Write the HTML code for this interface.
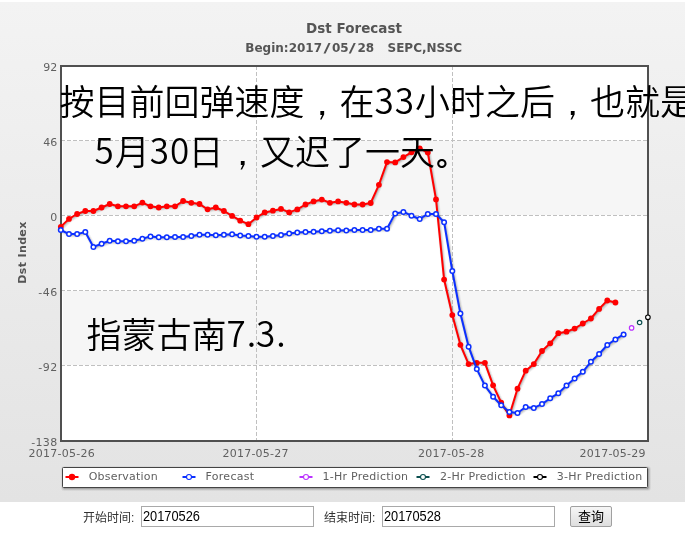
<!DOCTYPE html>
<html><head><meta charset="utf-8"><title>Dst Forecast</title>
<style>
html,body{margin:0;padding:0;background:#fff;width:685px;height:544px;overflow:hidden}
#chart{position:absolute;left:0;top:2px;width:685px;height:500px;background:linear-gradient(#f3f3f3,#e3e3e3)}
#chart svg{position:absolute;left:0;top:-2px}
.ax{font-family:"DejaVu Sans","Liberation Sans",sans-serif;font-size:11px;fill:#606060}
.ttl{font-family:"DejaVu Sans","Liberation Sans",sans-serif;font-weight:bold;fill:#555}
.ann{font-family:"Noto Sans CJK SC",sans-serif;font-weight:350;font-size:35px;fill:#000}
.cm{font-family:"WenQuanYi Zen Hei",sans-serif;font-weight:400}
#form{position:absolute;left:0;top:502px;width:685px;height:42px;font-family:"Liberation Sans","Noto Sans CJK SC",sans-serif;font-size:12px;color:#333}
.lbl{position:absolute;top:9px;line-height:14px}
.inp{position:absolute;top:4px;height:19px;width:171px;border:1px solid #a9a9a9;background:#fff;font-family:"Liberation Sans",sans-serif;font-size:13.33px;line-height:20px;color:#000;padding:0;box-sizing:content-box}
.it{display:inline-block;font-size:14px;transform:scaleX(0.915);transform-origin:0 50%;margin-left:1px;position:relative;top:-1px}
.btn{position:absolute;left:570px;top:4px;width:40px;height:19px;border:1px solid #a0a0a0;border-radius:2px;background:linear-gradient(#f6f6f6,#dedede);font-size:13px;line-height:19px;text-align:center;color:#000}
</style></head><body>
<div id="chart">
<svg width="685" height="502" viewBox="0 0 685 502">
<rect x="61" y="66" width="587" height="375" fill="#fff"/>
<rect x="63" y="141" width="584" height="74" fill="#f6f6f6"/>
<rect x="63" y="291" width="584" height="74" fill="#f6f6f6"/>
<g stroke="#c0c0c0" stroke-width="1" stroke-dasharray="4,2" fill="none"><path d="M61 140.5 H648"/><path d="M61 215.5 H648"/><path d="M61 290.5 H648"/><path d="M61 365.5 H648"/></g>
<g stroke="#c0c0c0" stroke-width="1" stroke-dasharray="4,2" fill="none"><path d="M256.5 66 V440"/><path d="M452.5 66 V440"/></g>
<rect x="61" y="66" width="587" height="375" fill="none" stroke="#505050" stroke-width="2"/>
<text class="ttl" x="306" y="33" font-size="13.5" textLength="96" lengthAdjust="spacing">Dst Forecast</text>
<text class="ttl" x="245.3" y="52" font-size="12">Begin:2017</text><text class="ttl" font-size="12" text-anchor="middle" transform="translate(327.1,52) scale(1.6,1)">/</text><text class="ttl" x="332" y="52" font-size="12">05</text><text class="ttl" font-size="12" text-anchor="middle" transform="translate(352.3,52) scale(1.6,1)">/</text><text class="ttl" x="357.5" y="52" font-size="12">28</text>
<text class="ttl" x="387.5" y="52" font-size="12" textLength="74.6" lengthAdjust="spacing">SEPC,NSSC</text>
<g class="ax"><text x="57.2" y="71" text-anchor="end">92</text><text x="57.2" y="146" text-anchor="end">46</text><text x="57.2" y="221" text-anchor="end">0</text><text x="57.2" y="296" text-anchor="end" textLength="19" lengthAdjust="spacing">-46</text><text x="57.2" y="371" text-anchor="end" textLength="19" lengthAdjust="spacing">-92</text><text x="57.2" y="446" text-anchor="end" textLength="26" lengthAdjust="spacing">-138</text></g>
<g class="ax"><text x="28.6" y="457" textLength="66.2" lengthAdjust="spacing">2017-05-26</text><text x="222.4" y="457" textLength="66.2" lengthAdjust="spacing">2017-05-27</text><text x="418.1" y="457" textLength="66.2" lengthAdjust="spacing">2017-05-28</text><text x="579.4" y="457" textLength="66.2" lengthAdjust="spacing">2017-05-29</text></g>
<text class="ttl" font-size="11" transform="translate(26.1,252.7) rotate(-90)" x="-31" textLength="62" lengthAdjust="spacing">Dst Index</text>
<path d="M60.8 226.8 L69.0 218.9 L77.1 214.0 L85.3 211.0 L93.4 211.0 L101.6 207.5 L109.7 204.0 L117.9 206.3 L126.0 206.3 L134.2 206.3 L142.4 202.6 L150.5 206.3 L158.7 207.5 L166.8 206.3 L175.0 206.3 L183.1 201.0 L191.3 202.8 L199.5 204.0 L207.6 209.3 L215.8 207.5 L223.9 211.0 L232.1 215.9 L240.2 220.7 L248.4 224.2 L256.5 217.5 L264.7 212.4 L272.9 210.7 L281.0 208.9 L289.2 212.4 L297.3 209.4 L305.5 204.5 L313.6 201.4 L321.8 199.6 L329.9 202.8 L338.1 201.4 L346.3 202.8 L354.4 204.5 L362.6 204.5 L370.7 203.0 L378.9 184.8 L387.0 162.1 L395.2 162.4 L403.4 157.1 L411.5 152.3 L419.7 148.3 L427.8 152.5 L436.0 199.4 L444.1 279.6 L452.3 315.1 L460.4 344.8 L468.6 364.1 L476.8 362.8 L484.9 362.8 L493.1 385.3 L501.2 402.7 L509.4 415.4 L517.5 388.7 L525.7 370.7 L533.8 364.1 L542.0 351.0 L550.2 343.3 L558.3 333.2 L566.5 331.7 L574.6 328.6 L582.8 323.5 L590.9 318.5 L599.1 308.9 L607.3 300.5 L615.4 302.5" fill="none" stroke="#000" stroke-opacity="0.05" stroke-width="5" stroke-linejoin="round" stroke-linecap="round" transform="translate(1,1)"/><path d="M60.8 226.8 L69.0 218.9 L77.1 214.0 L85.3 211.0 L93.4 211.0 L101.6 207.5 L109.7 204.0 L117.9 206.3 L126.0 206.3 L134.2 206.3 L142.4 202.6 L150.5 206.3 L158.7 207.5 L166.8 206.3 L175.0 206.3 L183.1 201.0 L191.3 202.8 L199.5 204.0 L207.6 209.3 L215.8 207.5 L223.9 211.0 L232.1 215.9 L240.2 220.7 L248.4 224.2 L256.5 217.5 L264.7 212.4 L272.9 210.7 L281.0 208.9 L289.2 212.4 L297.3 209.4 L305.5 204.5 L313.6 201.4 L321.8 199.6 L329.9 202.8 L338.1 201.4 L346.3 202.8 L354.4 204.5 L362.6 204.5 L370.7 203.0 L378.9 184.8 L387.0 162.1 L395.2 162.4 L403.4 157.1 L411.5 152.3 L419.7 148.3 L427.8 152.5 L436.0 199.4 L444.1 279.6 L452.3 315.1 L460.4 344.8 L468.6 364.1 L476.8 362.8 L484.9 362.8 L493.1 385.3 L501.2 402.7 L509.4 415.4 L517.5 388.7 L525.7 370.7 L533.8 364.1 L542.0 351.0 L550.2 343.3 L558.3 333.2 L566.5 331.7 L574.6 328.6 L582.8 323.5 L590.9 318.5 L599.1 308.9 L607.3 300.5 L615.4 302.5" fill="none" stroke="#000" stroke-opacity="0.10" stroke-width="3" stroke-linejoin="round" stroke-linecap="round" transform="translate(1,1)"/><path d="M60.8 226.8 L69.0 218.9 L77.1 214.0 L85.3 211.0 L93.4 211.0 L101.6 207.5 L109.7 204.0 L117.9 206.3 L126.0 206.3 L134.2 206.3 L142.4 202.6 L150.5 206.3 L158.7 207.5 L166.8 206.3 L175.0 206.3 L183.1 201.0 L191.3 202.8 L199.5 204.0 L207.6 209.3 L215.8 207.5 L223.9 211.0 L232.1 215.9 L240.2 220.7 L248.4 224.2 L256.5 217.5 L264.7 212.4 L272.9 210.7 L281.0 208.9 L289.2 212.4 L297.3 209.4 L305.5 204.5 L313.6 201.4 L321.8 199.6 L329.9 202.8 L338.1 201.4 L346.3 202.8 L354.4 204.5 L362.6 204.5 L370.7 203.0 L378.9 184.8 L387.0 162.1 L395.2 162.4 L403.4 157.1 L411.5 152.3 L419.7 148.3 L427.8 152.5 L436.0 199.4 L444.1 279.6 L452.3 315.1 L460.4 344.8 L468.6 364.1 L476.8 362.8 L484.9 362.8 L493.1 385.3 L501.2 402.7 L509.4 415.4 L517.5 388.7 L525.7 370.7 L533.8 364.1 L542.0 351.0 L550.2 343.3 L558.3 333.2 L566.5 331.7 L574.6 328.6 L582.8 323.5 L590.9 318.5 L599.1 308.9 L607.3 300.5 L615.4 302.5" fill="none" stroke="#000" stroke-opacity="0.15" stroke-width="1" stroke-linejoin="round" stroke-linecap="round" transform="translate(1,1)"/>
<path d="M60.8 226.8 L69.0 218.9 L77.1 214.0 L85.3 211.0 L93.4 211.0 L101.6 207.5 L109.7 204.0 L117.9 206.3 L126.0 206.3 L134.2 206.3 L142.4 202.6 L150.5 206.3 L158.7 207.5 L166.8 206.3 L175.0 206.3 L183.1 201.0 L191.3 202.8 L199.5 204.0 L207.6 209.3 L215.8 207.5 L223.9 211.0 L232.1 215.9 L240.2 220.7 L248.4 224.2 L256.5 217.5 L264.7 212.4 L272.9 210.7 L281.0 208.9 L289.2 212.4 L297.3 209.4 L305.5 204.5 L313.6 201.4 L321.8 199.6 L329.9 202.8 L338.1 201.4 L346.3 202.8 L354.4 204.5 L362.6 204.5 L370.7 203.0 L378.9 184.8 L387.0 162.1 L395.2 162.4 L403.4 157.1 L411.5 152.3 L419.7 148.3 L427.8 152.5 L436.0 199.4 L444.1 279.6 L452.3 315.1 L460.4 344.8 L468.6 364.1 L476.8 362.8 L484.9 362.8 L493.1 385.3 L501.2 402.7 L509.4 415.4 L517.5 388.7 L525.7 370.7 L533.8 364.1 L542.0 351.0 L550.2 343.3 L558.3 333.2 L566.5 331.7 L574.6 328.6 L582.8 323.5 L590.9 318.5 L599.1 308.9 L607.3 300.5 L615.4 302.5" fill="none" stroke="#ff0000" stroke-width="2" stroke-linejoin="round"/>
<g fill="#ff0000"><circle cx="60.8" cy="226.8" r="2.9"/><circle cx="69.0" cy="218.9" r="2.9"/><circle cx="77.1" cy="214.0" r="2.9"/><circle cx="85.3" cy="211.0" r="2.9"/><circle cx="93.4" cy="211.0" r="2.9"/><circle cx="101.6" cy="207.5" r="2.9"/><circle cx="109.7" cy="204.0" r="2.9"/><circle cx="117.9" cy="206.3" r="2.9"/><circle cx="126.0" cy="206.3" r="2.9"/><circle cx="134.2" cy="206.3" r="2.9"/><circle cx="142.4" cy="202.6" r="2.9"/><circle cx="150.5" cy="206.3" r="2.9"/><circle cx="158.7" cy="207.5" r="2.9"/><circle cx="166.8" cy="206.3" r="2.9"/><circle cx="175.0" cy="206.3" r="2.9"/><circle cx="183.1" cy="201.0" r="2.9"/><circle cx="191.3" cy="202.8" r="2.9"/><circle cx="199.5" cy="204.0" r="2.9"/><circle cx="207.6" cy="209.3" r="2.9"/><circle cx="215.8" cy="207.5" r="2.9"/><circle cx="223.9" cy="211.0" r="2.9"/><circle cx="232.1" cy="215.9" r="2.9"/><circle cx="240.2" cy="220.7" r="2.9"/><circle cx="248.4" cy="224.2" r="2.9"/><circle cx="256.5" cy="217.5" r="2.9"/><circle cx="264.7" cy="212.4" r="2.9"/><circle cx="272.9" cy="210.7" r="2.9"/><circle cx="281.0" cy="208.9" r="2.9"/><circle cx="289.2" cy="212.4" r="2.9"/><circle cx="297.3" cy="209.4" r="2.9"/><circle cx="305.5" cy="204.5" r="2.9"/><circle cx="313.6" cy="201.4" r="2.9"/><circle cx="321.8" cy="199.6" r="2.9"/><circle cx="329.9" cy="202.8" r="2.9"/><circle cx="338.1" cy="201.4" r="2.9"/><circle cx="346.3" cy="202.8" r="2.9"/><circle cx="354.4" cy="204.5" r="2.9"/><circle cx="362.6" cy="204.5" r="2.9"/><circle cx="370.7" cy="203.0" r="2.9"/><circle cx="378.9" cy="184.8" r="2.9"/><circle cx="387.0" cy="162.1" r="2.9"/><circle cx="395.2" cy="162.4" r="2.9"/><circle cx="403.4" cy="157.1" r="2.9"/><circle cx="411.5" cy="152.3" r="2.9"/><circle cx="419.7" cy="148.3" r="2.9"/><circle cx="427.8" cy="152.5" r="2.9"/><circle cx="436.0" cy="199.4" r="2.9"/><circle cx="444.1" cy="279.6" r="2.9"/><circle cx="452.3" cy="315.1" r="2.9"/><circle cx="460.4" cy="344.8" r="2.9"/><circle cx="468.6" cy="364.1" r="2.9"/><circle cx="476.8" cy="362.8" r="2.9"/><circle cx="484.9" cy="362.8" r="2.9"/><circle cx="493.1" cy="385.3" r="2.9"/><circle cx="501.2" cy="402.7" r="2.9"/><circle cx="509.4" cy="415.4" r="2.9"/><circle cx="517.5" cy="388.7" r="2.9"/><circle cx="525.7" cy="370.7" r="2.9"/><circle cx="533.8" cy="364.1" r="2.9"/><circle cx="542.0" cy="351.0" r="2.9"/><circle cx="550.2" cy="343.3" r="2.9"/><circle cx="558.3" cy="333.2" r="2.9"/><circle cx="566.5" cy="331.7" r="2.9"/><circle cx="574.6" cy="328.6" r="2.9"/><circle cx="582.8" cy="323.5" r="2.9"/><circle cx="590.9" cy="318.5" r="2.9"/><circle cx="599.1" cy="308.9" r="2.9"/><circle cx="607.3" cy="300.5" r="2.9"/><circle cx="615.4" cy="302.5" r="2.9"/></g>
<path d="M60.8 230.0 L69.0 234.1 L77.1 234.1 L85.3 232.0 L93.4 246.9 L101.6 243.8 L109.7 240.8 L117.9 241.2 L126.0 241.2 L134.2 240.8 L142.4 238.7 L150.5 236.4 L158.7 237.3 L166.8 237.3 L175.0 237.0 L183.1 237.0 L191.3 236.1 L199.5 234.7 L207.6 234.7 L215.8 235.2 L223.9 234.7 L232.1 234.3 L240.2 235.5 L248.4 236.1 L256.5 236.8 L264.7 236.8 L272.9 235.9 L281.0 235.0 L289.2 233.6 L297.3 232.6 L305.5 232.0 L313.6 231.7 L321.8 231.2 L329.9 230.8 L338.1 230.3 L346.3 230.5 L354.4 229.9 L362.6 229.9 L370.7 230.0 L378.9 228.8 L387.0 228.8 L395.2 213.4 L403.4 211.9 L411.5 215.7 L419.7 219.0 L427.8 213.9 L436.0 213.9 L444.1 222.2 L452.3 271.0 L460.4 313.6 L468.6 346.7 L476.8 369.1 L484.9 385.6 L493.1 396.7 L501.2 405.2 L509.4 412.0 L517.5 413.0 L525.7 407.0 L533.8 407.9 L542.0 404.1 L550.2 398.2 L558.3 393.3 L566.5 385.5 L574.6 378.4 L582.8 371.8 L590.9 361.8 L599.1 354.0 L607.3 345.0 L615.4 339.4 L623.6 334.4" fill="none" stroke="#000" stroke-opacity="0.05" stroke-width="5" stroke-linejoin="round" stroke-linecap="round" transform="translate(1,1)"/><path d="M60.8 230.0 L69.0 234.1 L77.1 234.1 L85.3 232.0 L93.4 246.9 L101.6 243.8 L109.7 240.8 L117.9 241.2 L126.0 241.2 L134.2 240.8 L142.4 238.7 L150.5 236.4 L158.7 237.3 L166.8 237.3 L175.0 237.0 L183.1 237.0 L191.3 236.1 L199.5 234.7 L207.6 234.7 L215.8 235.2 L223.9 234.7 L232.1 234.3 L240.2 235.5 L248.4 236.1 L256.5 236.8 L264.7 236.8 L272.9 235.9 L281.0 235.0 L289.2 233.6 L297.3 232.6 L305.5 232.0 L313.6 231.7 L321.8 231.2 L329.9 230.8 L338.1 230.3 L346.3 230.5 L354.4 229.9 L362.6 229.9 L370.7 230.0 L378.9 228.8 L387.0 228.8 L395.2 213.4 L403.4 211.9 L411.5 215.7 L419.7 219.0 L427.8 213.9 L436.0 213.9 L444.1 222.2 L452.3 271.0 L460.4 313.6 L468.6 346.7 L476.8 369.1 L484.9 385.6 L493.1 396.7 L501.2 405.2 L509.4 412.0 L517.5 413.0 L525.7 407.0 L533.8 407.9 L542.0 404.1 L550.2 398.2 L558.3 393.3 L566.5 385.5 L574.6 378.4 L582.8 371.8 L590.9 361.8 L599.1 354.0 L607.3 345.0 L615.4 339.4 L623.6 334.4" fill="none" stroke="#000" stroke-opacity="0.10" stroke-width="3" stroke-linejoin="round" stroke-linecap="round" transform="translate(1,1)"/><path d="M60.8 230.0 L69.0 234.1 L77.1 234.1 L85.3 232.0 L93.4 246.9 L101.6 243.8 L109.7 240.8 L117.9 241.2 L126.0 241.2 L134.2 240.8 L142.4 238.7 L150.5 236.4 L158.7 237.3 L166.8 237.3 L175.0 237.0 L183.1 237.0 L191.3 236.1 L199.5 234.7 L207.6 234.7 L215.8 235.2 L223.9 234.7 L232.1 234.3 L240.2 235.5 L248.4 236.1 L256.5 236.8 L264.7 236.8 L272.9 235.9 L281.0 235.0 L289.2 233.6 L297.3 232.6 L305.5 232.0 L313.6 231.7 L321.8 231.2 L329.9 230.8 L338.1 230.3 L346.3 230.5 L354.4 229.9 L362.6 229.9 L370.7 230.0 L378.9 228.8 L387.0 228.8 L395.2 213.4 L403.4 211.9 L411.5 215.7 L419.7 219.0 L427.8 213.9 L436.0 213.9 L444.1 222.2 L452.3 271.0 L460.4 313.6 L468.6 346.7 L476.8 369.1 L484.9 385.6 L493.1 396.7 L501.2 405.2 L509.4 412.0 L517.5 413.0 L525.7 407.0 L533.8 407.9 L542.0 404.1 L550.2 398.2 L558.3 393.3 L566.5 385.5 L574.6 378.4 L582.8 371.8 L590.9 361.8 L599.1 354.0 L607.3 345.0 L615.4 339.4 L623.6 334.4" fill="none" stroke="#000" stroke-opacity="0.15" stroke-width="1" stroke-linejoin="round" stroke-linecap="round" transform="translate(1,1)"/>
<path d="M60.8 230.0 L69.0 234.1 L77.1 234.1 L85.3 232.0 L93.4 246.9 L101.6 243.8 L109.7 240.8 L117.9 241.2 L126.0 241.2 L134.2 240.8 L142.4 238.7 L150.5 236.4 L158.7 237.3 L166.8 237.3 L175.0 237.0 L183.1 237.0 L191.3 236.1 L199.5 234.7 L207.6 234.7 L215.8 235.2 L223.9 234.7 L232.1 234.3 L240.2 235.5 L248.4 236.1 L256.5 236.8 L264.7 236.8 L272.9 235.9 L281.0 235.0 L289.2 233.6 L297.3 232.6 L305.5 232.0 L313.6 231.7 L321.8 231.2 L329.9 230.8 L338.1 230.3 L346.3 230.5 L354.4 229.9 L362.6 229.9 L370.7 230.0 L378.9 228.8 L387.0 228.8 L395.2 213.4 L403.4 211.9 L411.5 215.7 L419.7 219.0 L427.8 213.9 L436.0 213.9 L444.1 222.2 L452.3 271.0 L460.4 313.6 L468.6 346.7 L476.8 369.1 L484.9 385.6 L493.1 396.7 L501.2 405.2 L509.4 412.0 L517.5 413.0 L525.7 407.0 L533.8 407.9 L542.0 404.1 L550.2 398.2 L558.3 393.3 L566.5 385.5 L574.6 378.4 L582.8 371.8 L590.9 361.8 L599.1 354.0 L607.3 345.0 L615.4 339.4 L623.6 334.4" fill="none" stroke="#0c30ff" stroke-width="2" stroke-linejoin="round"/>
<g fill="#fff" stroke="#0c30ff" stroke-width="1.5"><circle cx="60.8" cy="230.0" r="2.25"/><circle cx="69.0" cy="234.1" r="2.25"/><circle cx="77.1" cy="234.1" r="2.25"/><circle cx="85.3" cy="232.0" r="2.25"/><circle cx="93.4" cy="246.9" r="2.25"/><circle cx="101.6" cy="243.8" r="2.25"/><circle cx="109.7" cy="240.8" r="2.25"/><circle cx="117.9" cy="241.2" r="2.25"/><circle cx="126.0" cy="241.2" r="2.25"/><circle cx="134.2" cy="240.8" r="2.25"/><circle cx="142.4" cy="238.7" r="2.25"/><circle cx="150.5" cy="236.4" r="2.25"/><circle cx="158.7" cy="237.3" r="2.25"/><circle cx="166.8" cy="237.3" r="2.25"/><circle cx="175.0" cy="237.0" r="2.25"/><circle cx="183.1" cy="237.0" r="2.25"/><circle cx="191.3" cy="236.1" r="2.25"/><circle cx="199.5" cy="234.7" r="2.25"/><circle cx="207.6" cy="234.7" r="2.25"/><circle cx="215.8" cy="235.2" r="2.25"/><circle cx="223.9" cy="234.7" r="2.25"/><circle cx="232.1" cy="234.3" r="2.25"/><circle cx="240.2" cy="235.5" r="2.25"/><circle cx="248.4" cy="236.1" r="2.25"/><circle cx="256.5" cy="236.8" r="2.25"/><circle cx="264.7" cy="236.8" r="2.25"/><circle cx="272.9" cy="235.9" r="2.25"/><circle cx="281.0" cy="235.0" r="2.25"/><circle cx="289.2" cy="233.6" r="2.25"/><circle cx="297.3" cy="232.6" r="2.25"/><circle cx="305.5" cy="232.0" r="2.25"/><circle cx="313.6" cy="231.7" r="2.25"/><circle cx="321.8" cy="231.2" r="2.25"/><circle cx="329.9" cy="230.8" r="2.25"/><circle cx="338.1" cy="230.3" r="2.25"/><circle cx="346.3" cy="230.5" r="2.25"/><circle cx="354.4" cy="229.9" r="2.25"/><circle cx="362.6" cy="229.9" r="2.25"/><circle cx="370.7" cy="230.0" r="2.25"/><circle cx="378.9" cy="228.8" r="2.25"/><circle cx="387.0" cy="228.8" r="2.25"/><circle cx="395.2" cy="213.4" r="2.25"/><circle cx="403.4" cy="211.9" r="2.25"/><circle cx="411.5" cy="215.7" r="2.25"/><circle cx="419.7" cy="219.0" r="2.25"/><circle cx="427.8" cy="213.9" r="2.25"/><circle cx="436.0" cy="213.9" r="2.25"/><circle cx="444.1" cy="222.2" r="2.25"/><circle cx="452.3" cy="271.0" r="2.25"/><circle cx="460.4" cy="313.6" r="2.25"/><circle cx="468.6" cy="346.7" r="2.25"/><circle cx="476.8" cy="369.1" r="2.25"/><circle cx="484.9" cy="385.6" r="2.25"/><circle cx="493.1" cy="396.7" r="2.25"/><circle cx="501.2" cy="405.2" r="2.25"/><circle cx="509.4" cy="412.0" r="2.25"/><circle cx="517.5" cy="413.0" r="2.25"/><circle cx="525.7" cy="407.0" r="2.25"/><circle cx="533.8" cy="407.9" r="2.25"/><circle cx="542.0" cy="404.1" r="2.25"/><circle cx="550.2" cy="398.2" r="2.25"/><circle cx="558.3" cy="393.3" r="2.25"/><circle cx="566.5" cy="385.5" r="2.25"/><circle cx="574.6" cy="378.4" r="2.25"/><circle cx="582.8" cy="371.8" r="2.25"/><circle cx="590.9" cy="361.8" r="2.25"/><circle cx="599.1" cy="354.0" r="2.25"/><circle cx="607.3" cy="345.0" r="2.25"/><circle cx="615.4" cy="339.4" r="2.25"/><circle cx="623.6" cy="334.4" r="2.25"/></g>
<circle cx="631.6" cy="327.9" r="2.2" fill="#fff" stroke="#bb33ff" stroke-width="1.2"/>
<circle cx="639.6" cy="322.5" r="2.2" fill="#fff" stroke="#0b4f4f" stroke-width="1.2"/>
<circle cx="647.9" cy="317.3" r="2.3" fill="#fff" stroke="#000" stroke-width="1.1"/>
<g>
<g fill="none" stroke="#000" transform="translate(1,1)"><rect x="62.5" y="467.5" width="585" height="20" stroke-opacity="0.05" stroke-width="5" rx="1"/><rect x="62.5" y="467.5" width="585" height="20" stroke-opacity="0.1" stroke-width="3" rx="1"/><rect x="62.5" y="467.5" width="585" height="20" stroke-opacity="0.15" stroke-width="1" rx="1"/></g>
<rect x="62.5" y="467.5" width="585" height="20" fill="#fff" stroke="#444" stroke-width="1" rx="1"/>
<path d="M65.5 477 H78.5" stroke="#ff0000" stroke-width="2"/><circle cx="72" cy="477" r="3.2" fill="#ff0000"/><text class="ax" x="88.7" y="480" textLength="69.0" lengthAdjust="spacing">Observation</text>
<path d="M182.5 477 H195.5" stroke="#0c30ff" stroke-width="2"/><circle cx="189" cy="477" r="2.5" fill="#fff" stroke="#0c30ff" stroke-width="1.1"/><text class="ax" x="205.6" y="480" textLength="48.5" lengthAdjust="spacing">Forecast</text>
<path d="M299.5 477 H312.5" stroke="#bb33ff" stroke-width="2"/><circle cx="306" cy="477" r="2.5" fill="#fff" stroke="#bb33ff" stroke-width="1.1"/><text class="ax" x="322.5" y="480" textLength="85.6" lengthAdjust="spacing">1-Hr Prediction</text>
<path d="M416.5 477 H429.5" stroke="#0b4f4f" stroke-width="2"/><circle cx="423" cy="477" r="2.5" fill="#fff" stroke="#0b4f4f" stroke-width="1.1"/><text class="ax" x="439.9" y="480" textLength="85.6" lengthAdjust="spacing">2-Hr Prediction</text>
<path d="M533.5 477 H546.5" stroke="#000" stroke-width="2"/><circle cx="540" cy="477" r="2.5" fill="#fff" stroke="#000" stroke-width="1.1"/><text class="ax" x="556.7" y="480" textLength="85.6" lengthAdjust="spacing">3-Hr Prediction</text>

</g>
<text class="ann" y="113.5"><tspan x="59.5" y="114.7">按</tspan><tspan x="94.5" y="114.7">目</tspan><tspan x="129.5" y="114.7">前</tspan><tspan x="164.5" y="114.7">回</tspan><tspan x="199.5" y="114.7">弹</tspan><tspan x="234.5" y="114.7">速</tspan><tspan x="269.5" y="114.7">度</tspan><tspan class="cm" x="304.5">，</tspan><tspan x="339.5" y="114.7">在</tspan><tspan x="374.5" y="113.5">3</tspan><tspan x="394.7" y="113.5">3</tspan><tspan x="414.9" y="114.7">小</tspan><tspan x="449.9" y="114.7">时</tspan><tspan x="484.9" y="114.7">之</tspan><tspan x="519.9" y="114.7">后</tspan><tspan class="cm" x="554.9">，</tspan><tspan x="589.9" y="114.7">也</tspan><tspan x="624.9" y="114.7">就</tspan><tspan x="659.9" y="114.7">是</tspan></text>
<text class="ann" y="164"><tspan x="94.5" y="164.0">5</tspan><tspan x="114.7" y="165.0">月</tspan><tspan x="149.7" y="164.0">3</tspan><tspan x="169.9" y="164.0">0</tspan><tspan x="188.5" y="165.0">日</tspan><tspan class="cm" x="225.1">，</tspan><tspan x="260.1" y="165.0">又</tspan><tspan x="295.1" y="165.0">迟</tspan><tspan x="330.1" y="165.0">了</tspan><tspan x="365.1" y="165.0">一</tspan><tspan x="400.1" y="165.0">天</tspan><tspan x="436.2" y="166.0" font-size="29" font-weight="700">。</tspan></text>
<text class="ann" y="346.7"><tspan x="86.5" y="347.8">指</tspan><tspan x="121.5" y="347.8">蒙</tspan><tspan x="156.5" y="347.8">古</tspan><tspan x="191.5" y="347.8">南</tspan><tspan x="226.5" y="346.7">7</tspan><tspan x="246.7" y="346.7">.</tspan><tspan x="256.1" y="346.7">3</tspan><tspan x="276.3" y="346.7">.</tspan></text>
</svg>
</div>
<div id="form">
<span class="lbl" style="left:83px">开始时间:</span>
<div class="inp" style="left:141px"><span class="it">20170526</span></div>
<span class="lbl" style="left:324px">结束时间:</span>
<div class="inp" style="left:382px"><span class="it">20170528</span></div>
<div class="btn">查询</div>
</div>
</body></html>
